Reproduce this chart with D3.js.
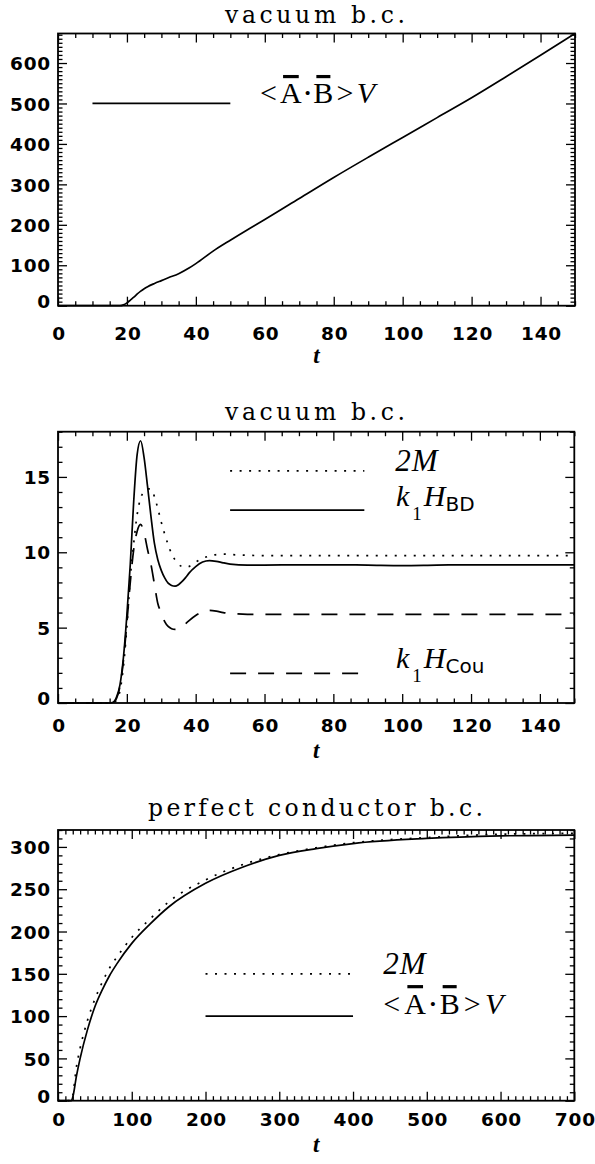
<!DOCTYPE html>
<html>
<head>
<meta charset="utf-8">
<script src="https://d3js.org/d3.v7.min.js"></script>
<style>
  body { margin: 0; background: #fff; }
</style>
</head>
<body>
<svg id="chart" width="595" height="1164"></svg>
<script>
// ------------------------------
// Data
// ------------------------------

// Panel 1: vacuum b.c., <A.B>V
var tVacA = [0, 10, 17, 18, 19, 20, 21, 22, 23, 24, 25, 26, 28, 30, 32, 35, 38, 40, 45, 50, 55, 60, 70, 80, 90, 100, 110, 120, 130, 140, 150];
var abVacA = [0, 0, 0, 0, 2, 7, 14, 21, 29, 36, 42, 47, 55, 62, 69, 79, 93, 104, 135, 162, 188, 213, 265, 317, 367, 416, 465, 514, 566, 619, 673];

// Panel 2: vacuum b.c., 2M, k1 H_BD, k1 H_Cou
var tVacB = [0, 10, 15, 16, 17, 18, 19, 20, 21, 22, 23, 24, 25, 26, 27, 28, 29, 30, 31, 32, 33, 34, 35, 36, 37, 38, 40, 42, 44, 46, 48, 50, 55, 60, 70, 80, 90, 100, 110, 120, 130, 140, 150];
var m2VacB = [0, 0, 0, 0.02, 0.2, 0.8, 2.4, 5.0, 8.3, 10.6, 12.5, 13.6, 14.0, 14.2, 14.2, 13.7, 12.9, 12.0, 11.2, 10.5, 9.9, 9.5, 9.2, 9.05, 9.0, 9.05, 9.35, 9.6, 9.75, 9.85, 9.88, 9.85, 9.8, 9.78, 9.78, 9.78, 9.78, 9.78, 9.78, 9.78, 9.78, 9.78, 9.78];
var hbdVacB = [0, 0, 0, 0.05, 0.4, 1.2, 3.0, 5.8, 9.2, 13.4, 16.5, 17.4, 16.3, 14.4, 12.4, 10.6, 9.5, 8.8, 8.3, 7.95, 7.8, 7.75, 7.85, 8.05, 8.3, 8.6, 9.05, 9.35, 9.45, 9.4, 9.3, 9.22, 9.15, 9.15, 9.17, 9.17, 9.15, 9.12, 9.15, 9.17, 9.17, 9.17, 9.17];
var hcouVacB = [0, 0, 0, 0.03, 0.3, 1.1, 2.8, 5.3, 8.0, 10.2, 11.4, 11.85, 11.3, 10.2, 9.2, 7.9, 6.6, 6.0, 5.4, 5.08, 4.93, 4.88, 4.92, 5.05, 5.25, 5.45, 5.8, 6.05, 6.15, 6.1, 6.0, 5.95, 5.88, 5.88, 5.88, 5.88, 5.88, 5.88, 5.88, 5.88, 5.88, 5.88, 5.88];

// Panel 3: perfect conductor b.c., 2M and <A.B>V
var tPc = [0, 10, 18, 20, 25, 30, 40, 50, 60, 70, 80, 100, 125, 150, 200, 250, 300, 350, 400, 500, 600, 700];
var m2Pc = [0, 0, 0, 6, 40, 62, 95, 120, 140, 157, 170, 193, 215, 235, 261, 279, 291, 299, 305, 311, 315, 316];
var abPc = [0, 0, 0, 4, 29, 50, 84, 111, 131, 148, 162, 186, 209, 229, 257, 276, 290, 298, 304, 310, 313, 314];

// Tick labels
var xTicksA = [0, 20, 40, 60, 80, 100, 120, 140];
var yTicksA = [0, 100, 200, 300, 400, 500, 600];
var xTicksB = [0, 20, 40, 60, 80, 100, 120, 140];
var yTicksB = [0, 5, 10, 15];
var xTicksC = [0, 100, 200, 300, 400, 500, 600, 700];
var yTicksC = [0, 50, 100, 150, 200, 250, 300];


// ------------------------------
// Setup
// ------------------------------

var svg = d3.select("#chart");
var SERIF = "'DejaVu Serif', serif";
var TIMES = "'Liberation Serif', serif";
var SANS = "'DejaVu Sans', sans-serif";

var DOT = "2,7.5";
var DASH = "16,12";

function range(a, b, step) {
    var out = [];
    for (var v = a; v <= b + 1e-9; v += step) out.push(+v.toFixed(6));
    return out;
}

// one framed panel with inward ticks on all four sides
function panel(p) {
    var x = d3.scaleLinear().domain(p.xDomain).range([p.left, p.right]);
    var y = d3.scaleLinear().domain(p.yDomain).range([p.bottom, p.top]);
    var g = svg.append("g");

    var xMinor = range(p.xDomain[0], p.xDomain[1], p.xMinor).filter(function(v) { return p.xTicks.indexOf(v) < 0; });
    var yMinor = range(p.yDomain[0], p.yDomain[1], p.yMinor).filter(function(v) { return p.yTicks.indexOf(v) < 0; });

    function ax(gen, tr) {
        return g.append("g").attr("transform", tr).call(gen);
    }

    // minor ticks
    ax(d3.axisBottom(x).tickValues(xMinor).tickSize(-4.5).tickSizeOuter(0).tickFormat(""), "translate(0," + p.bottom + ")");
    ax(d3.axisTop(x).tickValues(xMinor).tickSize(-4.5).tickSizeOuter(0).tickFormat(""), "translate(0," + p.top + ")");
    ax(d3.axisLeft(y).tickValues(yMinor).tickSize(-4.5).tickSizeOuter(0).tickFormat(""), "translate(" + p.left + ",0)");
    ax(d3.axisRight(y).tickValues(yMinor).tickSize(-4.5).tickSizeOuter(0).tickFormat(""), "translate(" + p.right + ",0)");

    // major ticks
    var xb = ax(d3.axisBottom(x).tickValues(p.xTicks).tickSize(-9).tickSizeOuter(0).tickFormat(d3.format("d")), "translate(0," + p.bottom + ")");
    ax(d3.axisTop(x).tickValues(p.xTicks).tickSize(-9).tickSizeOuter(0).tickFormat(""), "translate(0," + p.top + ")");
    var yl = ax(d3.axisLeft(y).tickValues(p.yTicks).tickSize(-9).tickSizeOuter(0).tickFormat(d3.format("d")), "translate(" + p.left + ",0)");
    ax(d3.axisRight(y).tickValues(p.yTicks).tickSize(-9).tickSizeOuter(0).tickFormat(""), "translate(" + p.right + ",0)");

    g.selectAll(".domain").remove();
    g.selectAll(".tick line").attr("stroke", "#000").attr("stroke-width", 1.3);
    g.selectAll("g").attr("font-family", null).attr("font-size", null);

    xb.selectAll("text")
        .attr("dy", null)
        .attr("y", p.xLabelY - p.bottom)
        .attr("dx", 0.5);
    yl.selectAll("text")
        .attr("x", -7)
        .attr("dy", function(d) { return d === p.yDomain[0] ? "0.1em" : "0.36em"; });
    g.selectAll(".tick text")
        .attr("font-family", SANS)
        .attr("font-weight", "bold")
        .attr("font-size", 18.5)
        .attr("letter-spacing", 0.8)
        .attr("fill", "#000");

    // frame
    g.append("rect")
        .attr("x", p.left).attr("y", p.top)
        .attr("width", p.right - p.left).attr("height", p.bottom - p.top)
        .attr("fill", "none").attr("stroke", "#000").attr("stroke-width", 1.8);

    // title
    g.append("text")
        .attr("x", p.titleX).attr("y", p.titleY)
        .attr("textLength", p.titleW).attr("lengthAdjust", "spacing")
        .attr("font-family", SERIF).attr("font-size", 23.5)
        .text(p.title);

    // x axis title
    g.append("text")
        .attr("x", (p.left + p.right) / 2).attr("y", p.xTitleY)
        .attr("text-anchor", "middle")
        .attr("font-family", TIMES).attr("font-style", "italic").attr("font-weight", "bold")
        .attr("font-size", 23)
        .text("t");

    return { g: g, x: x, y: y };
}

function curve(P, xs, ys, dash) {
    var line = d3.line()
        .x(function(d, i) { return P.x(xs[i]); })
        .y(function(d) { return P.y(d); })
        .curve(d3.curveMonotoneX);
    P.g.append("path")
        .datum(ys)
        .attr("d", line)
        .attr("fill", "none")
        .attr("stroke", "#000")
        .attr("stroke-width", 1.7)
        .attr("stroke-dasharray", dash || null);
}

function keyLine(P, x0, x1, yv, dash) {
    P.g.append("line")
        .attr("x1", P.x(x0)).attr("x2", P.x(x1))
        .attr("y1", P.y(yv)).attr("y2", P.y(yv))
        .attr("stroke", "#000").attr("stroke-width", 1.7)
        .attr("stroke-dasharray", dash || null);
}

// <A.B>V with overbars
function abLabel(P, xv, yv, w) {
    var fs = 30;
    var t = P.g.append("text")
        .attr("x", P.x(xv)).attr("y", P.y(yv))
        .attr("textLength", w).attr("lengthAdjust", "spacing")
        .attr("font-family", TIMES).attr("font-size", fs);
    t.append("tspan").text("<");
    t.append("tspan").text("A");
    t.append("tspan").attr("font-size", 15).attr("font-weight", "bold").attr("dy", -5).text("\u2022");
    t.append("tspan").attr("dy", 5).text("B");
    t.append("tspan").text(">");
    t.append("tspan").attr("font-style", "italic").text("V");
    var node = t.node();
    [1, 3].forEach(function(i) {
        var e = node.getExtentOfChar(i);
        P.g.append("rect")
            .attr("x", e.x + 3).attr("width", e.width - 6)
            .attr("y", P.y(yv) - 28.5).attr("height", 3.2)
            .attr("fill", "#000");
    });
}

function m2Label(P, xv, yv) {
    P.g.append("text")
        .attr("x", P.x(xv)).attr("y", P.y(yv))
        .attr("font-family", TIMES).attr("font-style", "italic").attr("font-size", 31)
        .attr("letter-spacing", 1)
        .text("2M");
}

function hLabel(P, xv, yv, sub) {
    var t = P.g.append("text")
        .attr("x", P.x(xv)).attr("y", P.y(yv))
        .attr("font-family", TIMES).attr("font-size", 30);
    t.append("tspan").attr("font-style", "italic").text("k");
    t.append("tspan").attr("font-size", 19).attr("dx", 3).attr("dy", 14).text("1");
    t.append("tspan").attr("font-style", "italic").attr("dx", 2).attr("dy", -14).text("H");
    t.append("tspan").attr("font-family", SANS).attr("font-size", 20).attr("dy", 5).text(sub);
}


// ------------------------------
// Panel 1
// ------------------------------

var P1 = panel({
    left: 58, right: 575, top: 33.5, bottom: 305.7,
    xDomain: [0, 150], yDomain: [0, 673],
    xTicks: xTicksA, yTicks: yTicksA, xMinor: 5, yMinor: 10,
    xLabelY: 340.5, xTitleY: 363,
    title: "vacuum b.c.", titleX: 225, titleY: 23, titleW: 180
});
curve(P1, tVacA, abVacA);
keyLine(P1, 10, 50, 500);
abLabel(P1, 58.6, 500, 115);


// ------------------------------
// Panel 2
// ------------------------------

var P2 = panel({
    left: 58, right: 574.3, top: 431.7, bottom: 703,
    xDomain: [0, 150], yDomain: [0, 18],
    xTicks: xTicksB, yTicks: yTicksB, xMinor: 5, yMinor: 1,
    xLabelY: 731.5, xTitleY: 758,
    title: "vacuum b.c.", titleX: 225, titleY: 420, titleW: 180
});
curve(P2, tVacB, m2VacB, DOT);
curve(P2, tVacB, hbdVacB);
curve(P2, tVacB, hcouVacB, DASH);
keyLine(P2, 50, 89, 15.4, DOT);
keyLine(P2, 50, 89, 12.8, null);
keyLine(P2, 50, 89, 1.97, DASH);
m2Label(P2, 98, 15.4);
hLabel(P2, 98.2, 13.1, "BD");
hLabel(P2, 98.2, 2.3, "Cou");


// ------------------------------
// Panel 3
// ------------------------------

var P3 = panel({
    left: 58, right: 574.3, top: 830, bottom: 1100.7,
    xDomain: [0, 700], yDomain: [0, 320],
    xTicks: xTicksC, yTicks: yTicksC, xMinor: 10, yMinor: 10,
    xLabelY: 1126.5, xTitleY: 1152,
    title: "perfect conductor b.c.", titleX: 148, titleY: 816, titleW: 335
});
curve(P3, tPc, m2Pc, DOT);
curve(P3, tPc, abPc);
keyLine(P3, 200, 400, 150, DOT);
keyLine(P3, 200, 400, 100, null);
m2Label(P3, 441, 150);
abLabel(P3, 441, 103, 120);
</script>
</body>
</html>
